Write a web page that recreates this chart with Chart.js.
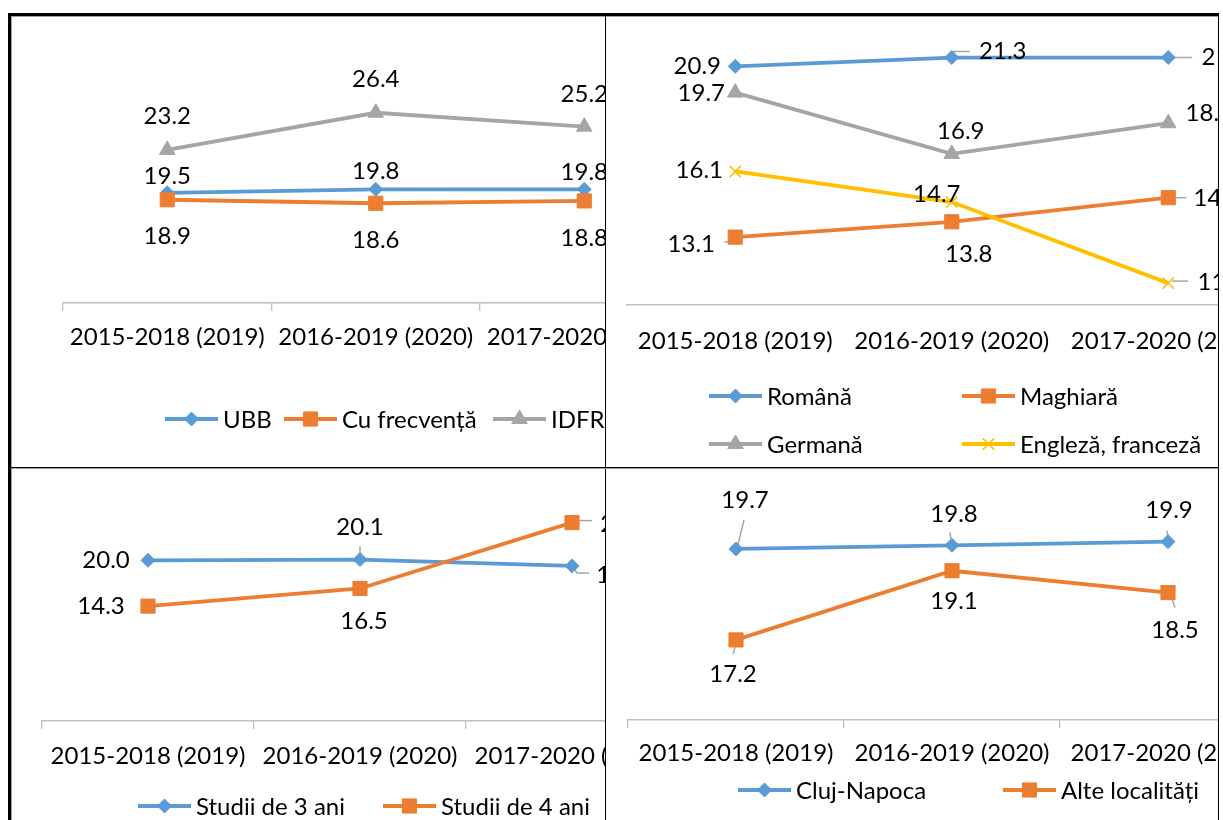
<!DOCTYPE html>
<html><head><meta charset="utf-8">
<script src="https://cdn.jsdelivr.net/npm/chart.js@4.4.1/dist/chart.umd.min.js"></script>
<style>
html,body{margin:0;padding:0;background:#fff;width:1223px;height:820px;overflow:hidden;position:relative;font-family:Lato,sans-serif}
.cell{position:absolute;overflow:hidden;background:#fff}
.cell canvas{position:absolute;top:0}
.ln{position:absolute}
</style></head><body>
<div class="cell" id="c1" style="left:11px;top:16px;width:594px;height:451px"><canvas id="tl"></canvas></div>
<div class="cell" id="c2" style="left:606px;top:16px;width:612px;height:451px"><canvas id="tr"></canvas></div>
<div class="cell" id="c3" style="left:11px;top:469px;width:594px;height:351px"><canvas id="bl"></canvas></div>
<div class="cell" id="c4" style="left:606px;top:469px;width:612px;height:351px"><canvas id="br"></canvas></div>
<!-- table borders -->
<div class="ln" style="left:8px;top:13px;width:1211px;height:3px;background:#000"></div>
<div class="ln" style="left:11px;top:16px;width:1207px;height:1px;background:#a0a0a0"></div>
<div class="ln" style="left:8px;top:13px;width:3px;height:807px;background:#000"></div>
<div class="ln" style="left:11px;top:16px;width:1px;height:804px;background:#a0a0a0"></div>
<div class="ln" style="left:605px;top:13px;width:1px;height:807px;background:#000"></div>
<div class="ln" style="left:1218px;top:13px;width:1px;height:807px;background:#000"></div>
<div class="ln" style="left:8px;top:467px;width:1211px;height:1px;background:#000"></div>
<div class="ln" style="left:11px;top:468px;width:1207px;height:1px;background:#a0a0a0"></div>
<script>
// ---- data ----
const categories = ['2015-2018 (2019)', '2016-2019 (2020)', '2017-2020 (2021)'];
// chart 1
const ubb = [19.5, 19.8, 19.8];
const cuFrecventa = [18.9, 18.6, 18.8];
const idfr = [23.2, 26.4, 25.2];
// chart 2
const romana = [20.9, 21.3, 21.3];
const maghiara = [13.1, 13.8, 14.9];
const germana = [19.7, 16.9, 18.3];
const englezaFranceza = [16.1, 14.7, 11.0];
// chart 3
const studii3 = [20.0, 20.1, 19.3];
const studii4 = [14.3, 16.5, 24.7];
// chart 4
const clujNapoca = [19.7, 19.8, 19.9];
const alteLocalitati = [17.2, 19.1, 18.5];

// ---- styles ----
const BLUE = '#5B9BD5', ORANGE = '#ED7D31', GRAY = '#A5A5A5', YELLOW = '#FFC000';
const FONT = 'Lato';
const FS = 24;

const labelPlugin = {
  id: 'excelLabels',
  beforeDatasetsDraw(chart) {
    const ctx = chart.ctx;
    chart.data.datasets.forEach((ds, i) => {
      const meta = chart.getDatasetMeta(i);
      (ds.labelPos || []).forEach((p, j) => {
        if (!p || !p.leader) return;
        const pt = meta.data[j];
        ctx.save();
        ctx.strokeStyle = '#A6A6A6'; ctx.lineWidth = 1.5;
        ctx.beginPath();
        p.leader.forEach((q, k) => { const fx = k ? 'lineTo' : 'moveTo'; ctx[fx](pt.x + q[0], pt.y + q[1]); });
        ctx.stroke();
        ctx.restore();
      });
    });
  },
  afterDatasetsDraw(chart) {
    const ctx = chart.ctx;
    chart.data.datasets.forEach((ds, i) => {
      const meta = chart.getDatasetMeta(i);
      meta.data.forEach((pt, j) => {
        const p = (ds.labelPos || [])[j] || {dx: 0, dy: -25};
        ctx.save();
        ctx.font = FS + 'px ' + FONT;
        ctx.fillStyle = '#000';
        ctx.textAlign = 'center';
        ctx.textBaseline = 'middle';
        ctx.fillText(ds.data[j].toFixed(1), pt.x + p.dx, pt.y + p.dy);
        ctx.restore();
      });
    });
  }
};

const legendPlugin = {
  id: 'excelLegend',
  afterDraw(chart, args, opts) {
    const ctx = chart.ctx;
    const ox = opts.ox || 0, oy = opts.oy || 0;
    (opts.items || []).forEach((it, i) => {
      const ds = chart.data.datasets[i];
      const x = it[0] - ox, y = it[1] - oy, len = 53;
      ctx.save();
      ctx.strokeStyle = ds.borderColor; ctx.lineWidth = ds.borderWidth; ctx.lineCap = 'butt';
      ctx.beginPath(); ctx.moveTo(x, y); ctx.lineTo(x + len, y); ctx.stroke();
      ctx.fillStyle = ds.pointBackgroundColor; ctx.strokeStyle = ds.pointBorderColor;
      ctx.lineWidth = ds.pointBorderWidth;
      Chart.helpers.drawPoint(ctx, {pointStyle: ds.pointStyle, radius: ds.pointRadius, borderWidth: ds.pointBorderWidth, rotation: 0}, x + len / 2, y);
      ctx.fillStyle = '#000';
      ctx.font = FS + 'px ' + FONT;
      ctx.textAlign = 'left'; ctx.textBaseline = 'middle';
      ctx.fillText(ds.label, x + len + 5, y + 1);
      ctx.restore();
    });
  }
};

function series(label, data, color, style, radius, labelPos, idx) {
  return {
    label, data, borderColor: color, backgroundColor: color,
    pointBackgroundColor: color, pointBorderColor: color,
    pointStyle: style, pointRadius: radius, pointHoverRadius: radius,
    pointBorderWidth: style === 'crossRot' ? 1.6 : 1,
    borderWidth: 3.8, tension: 0, clip: false, order: -idx, labelPos
  };
}

function makeChart(id, cell, g, datasets, legendItems) {
  const cv = document.getElementById(id);
  cv.width = g.W; cv.height = g.H;
  cv.style.width = g.W + 'px'; cv.style.height = g.H + 'px';
  cv.style.left = (g.cx - cell.x) + 'px';
  new Chart(cv, {
    type: 'line',
    data: { labels: categories, datasets },
    options: {
      responsive: false, animation: false, devicePixelRatio: 1,
      layout: { padding: { left: g.L - g.cx, right: g.cx + g.W - g.R, top: g.T - g.cy, bottom: g.cy + g.H - g.B - g.xh } },
      plugins: { legend: { display: false }, tooltip: { enabled: false },
        excelLegend: { items: legendItems, ox: g.cx, oy: g.cy } },
      scales: {
        y: { display: false, min: g.min, max: g.max },
        x: {
          offset: true,
          grid: { display: g.ticks, drawOnChartArea: false, drawTicks: true, tickLength: 8, color: '#BFBFBF', offset: true, lineWidth: 1.3 },
          border: { display: true, color: '#BFBFBF', width: 1.5 },
          ticks: { font: { family: FONT, size: FS, lineHeight: 1.2 }, color: '#000', padding: g.pad, maxRotation: 0, minRotation: 0, autoSkip: false },
          afterFit: s => { s.height = g.xh; }
        }
      }
    },
    plugins: [labelPlugin, legendPlugin]
  });
}

// Chart 1 (top-left)
makeChart('tl', {x: 11, y: 16},
  {cx: 11, cy: 16, W: 700, H: 451, L: 63, R: 688.5, T: 71, B: 303, min: 10, max: 30, xh: 70, pad: 12, ticks: true},
  [
    series('UBB', ubb, BLUE, 'rectRot', 7, [{dx: 0, dy: -17}, {dx: 0, dy: -18}, {dx: 0, dy: -17}], 0),
    series('Cu frecvență', cuFrecventa, ORANGE, 'rect', 10, [{dx: 0, dy: 37}, {dx: 0, dy: 37}, {dx: 0, dy: 37}], 1),
    series('IDFR', idfr, GRAY, 'triangle', 9, [{dx: 0, dy: -34}, {dx: 0, dy: -33}, {dx: 0, dy: -32}], 2)
  ],
  [[165, 419], [284, 419], [493, 419]]
);

// Chart 2 (top-right)
makeChart('tr', {x: 606, y: 16},
  {cx: 606, cy: 16, W: 700, H: 451, L: 627, R: 1276.5, T: 42.2, B: 305, min: 10, max: 22, xh: 70, pad: 14, ticks: false},
  [
    series('Română', romana, BLUE, 'rectRot', 7,
      [{dx: -38, dy: 0}, {dx: 51, dy: -6, leader: [[2, 0], [2, -6], [18, -6]]}, {dx: 57, dy: 0, leader: [[4, 0], [24, 0]]}], 0),
    series('Maghiară', maghiara, ORANGE, 'rect', 10,
      [{dx: -44, dy: 7, leader: [[-3, 0], [-3, 5], [-11, 5]]}, {dx: 17, dy: 32}, {dx: 49, dy: 1, leader: [[6, 0], [18, 0]]}], 1),
    series('Germană', germana, GRAY, 'triangle', 9,
      [{dx: -34, dy: 1}, {dx: 9, dy: -23}, {dx: 41, dy: -10}], 2),
    series('Engleză, franceză', englezaFranceza, YELLOW, 'crossRot', 8,
      [{dx: -36, dy: -1}, {dx: -15, dy: -8}, {dx: 53, dy: -1, leader: [[4, -2], [20, -2]]}], 3)
  ],
  [[709, 396], [962, 396], [709, 444], [962, 444]]
);

// Chart 3 (bottom-left)
makeChart('bl', {x: 11, y: 469},
  {cx: 11, cy: 469, W: 700, H: 351, L: 42, R: 678, T: 475.6, B: 721, min: 0, max: 30, xh: 50, pad: 13, ticks: true},
  [
    series('Studii de 3 ani', studii3, BLUE, 'rectRot', 7,
      [{dx: -42, dy: 0}, {dx: 0, dy: -32, leader: [[0, -4], [0, -13]]}, {dx: 48, dy: 9, leader: [[0, 0], [5, 7], [17, 7]]}], 0),
    series('Studii de 4 ani', studii4, ORANGE, 'rect', 10,
      [{dx: -47, dy: 0}, {dx: 4, dy: 33}, {dx: 52, dy: 2, leader: [[4, -2], [20, -2]]}], 1)
  ],
  [[138, 806], [383, 806]]
);

// Chart 4 (bottom-right)
makeChart('br', {x: 606, y: 469},
  {cx: 606, cy: 469, W: 700, H: 351, L: 628, R: 1276, T: 538, B: 720, min: 15, max: 20, xh: 50, pad: 11, ticks: true},
  [
    series('Cluj-Napoca', clujNapoca, BLUE, 'rectRot', 7,
      [{dx: 9, dy: -49, leader: [[8, -29], [2, -4]]}, {dx: 2, dy: -31, leader: [[-2, -13], [-1, -6]]}, {dx: 1, dy: -31, leader: [[-1, -11], [0, -5]]}], 0),
    series('Alte localități', alteLocalitati, ORANGE, 'rect', 10,
      [{dx: -3, dy: 34, leader: [[0, 4], [-3, 14]]}, {dx: 2, dy: 31}, {dx: 7, dy: 38, leader: [[3, 4], [7, 15]]}], 1)
  ],
  [[738, 790], [1003, 790]]
);
</script>
</body></html>
